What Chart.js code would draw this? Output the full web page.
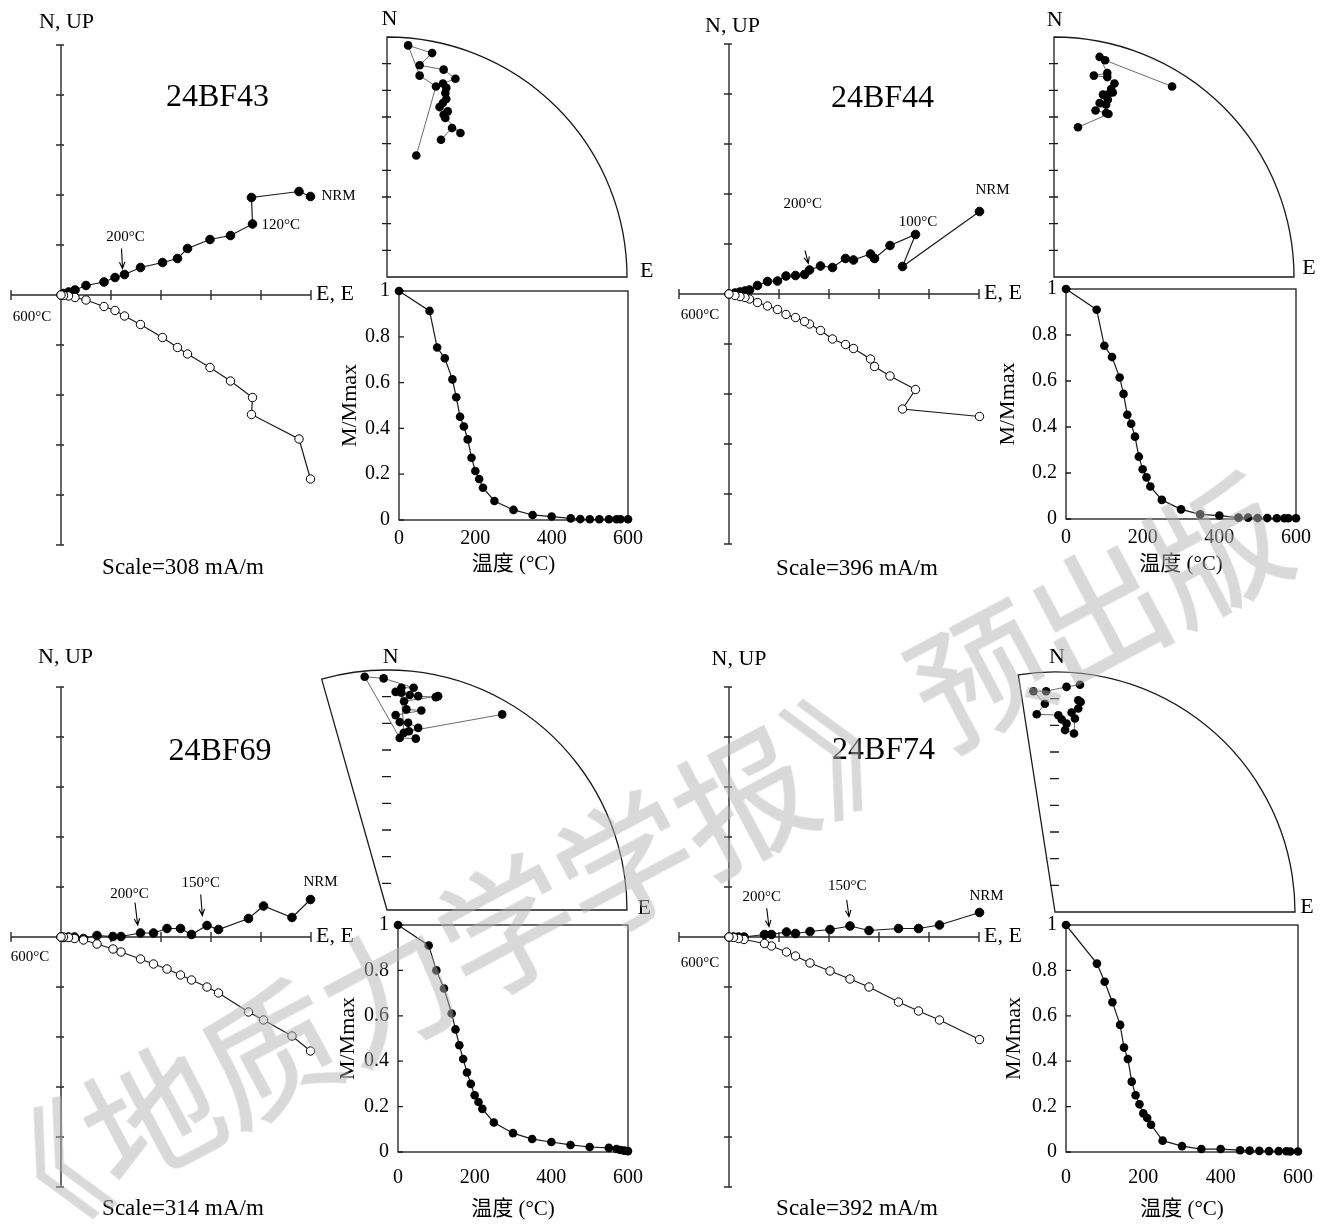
<!DOCTYPE html>
<html>
<head>
<meta charset="utf-8">
<title>24BF 系统退磁结果</title>
<script src="https://cdn.jsdelivr.net/npm/chart.js@4.4.1/dist/chart.umd.min.js"></script>
<style>
html, body { margin: 0; padding: 0; background: #fff; }
#page { position: relative; width: 1327px; height: 1225px; overflow: hidden; background: #fff; }
#page canvas { position: absolute; }
#wm {
    position: absolute; left: 622px; top: 858px; z-index: 10;
    transform: translate(-50%, -50%) rotate(-28deg);
    font: 400 134px "Noto Sans CJK SC", sans-serif; line-height: 1;
    color: rgb(180, 180, 180); -webkit-text-stroke: 1.5px rgb(180, 180, 180);
    opacity: 0.5; white-space: nowrap; pointer-events: none;
}
</style>
</head>
<body>
<div id="page"><div id="wm">《地质力学学报》预出版</div></div>
<script>
// ---- data ----
var sampleNames = ['24BF43', '24BF44', '24BF69', '24BF74'];
var scaleLabels = ['Scale=308 mA/m', 'Scale=396 mA/m', 'Scale=314 mA/m', 'Scale=392 mA/m'];
var tempTicks = [0, 200, 400, 600];
var ratioTicks = [0, 0.2, 0.4, 0.6, 0.8, 1];

// Zijderveld (units of one axis tick), E shared by both projections
var bf43E  = [4.99, 4.76, 3.81, 3.83, 3.39, 2.98, 2.53, 2.33, 2.03, 1.59, 1.27, 1.08, 0.86, 0.50, 0.28, 0.15, 0.05, 0];
var bf43N  = [1.97, 2.07, 1.95, 1.42, 1.19, 1.11, 0.93, 0.73, 0.65, 0.55, 0.41, 0.35, 0.26, 0.19, 0.10, 0.06, 0.03, 0];
var bf43Up = [-3.68, -2.88, -2.39, -2.05, -1.72, -1.45, -1.18, -1.05, -0.85, -0.59, -0.42, -0.31, -0.23, -0.10, -0.05, -0.02, -0.01, 0];

var bf44E  = [5.01, 3.47, 3.73, 3.22, 2.91, 2.83, 2.49, 2.33, 2.07, 1.83, 1.61, 1.51, 1.33, 1.14, 0.97, 0.77, 0.57, 0.41, 0.32, 0.22, 0.12, 0];
var bf44N  = [1.65, 0.55, 1.19, 0.97, 0.71, 0.80, 0.68, 0.71, 0.53, 0.56, 0.48, 0.39, 0.37, 0.36, 0.26, 0.25, 0.17, 0.08, 0.06, 0.04, 0.02, 0];
var bf44Up = [-2.45, -2.30, -1.91, -1.64, -1.45, -1.30, -1.09, -1.01, -0.90, -0.73, -0.60, -0.55, -0.47, -0.41, -0.31, -0.24, -0.17, -0.10, -0.07, -0.05, -0.03, 0];

var bf69E  = [4.99, 4.62, 4.05, 3.75, 3.15, 2.92, 2.61, 2.39, 2.12, 1.85, 1.59, 1.20, 1.04, 0.72, 0.45, 0.27, 0.15, 0.05, 0];
var bf69N  = [0.75, 0.39, 0.62, 0.37, 0.15, 0.23, 0.05, 0.17, 0.17, 0.08, 0.08, 0.01, 0.01, 0.03, -0.03, 0, 0, -0.01, 0];
var bf69Up = [-2.28, -1.98, -1.66, -1.50, -1.12, -1.00, -0.86, -0.76, -0.64, -0.54, -0.44, -0.30, -0.24, -0.14, -0.06, -0.03, -0.01, 0, 0];

var bf74E  = [5.01, 4.21, 3.79, 3.39, 2.80, 2.42, 2.02, 1.62, 1.33, 1.15, 0.85, 0.71, 0.30, 0.19, 0.09, 0];
var bf74N  = [0.49, 0.24, 0.17, 0.17, 0.13, 0.22, 0.15, 0.11, 0.07, 0.10, 0.05, 0.05, 0, 0, 0, 0];
var bf74Up = [-2.05, -1.66, -1.48, -1.30, -1.00, -0.84, -0.68, -0.52, -0.38, -0.30, -0.18, -0.13, -0.05, -0.03, -0.01, 0];

// equal-area net, E and N components as fraction of the net radius
var bf43NetE = [0.122, 0.204, 0.136, 0.088, 0.188, 0.136, 0.236, 0.285, 0.233, 0.247, 0.243, 0.247, 0.233, 0.219, 0.253, 0.236, 0.243, 0.306, 0.271, 0.225];
var bf43NetN = [0.506, 0.794, 0.839, 0.965, 0.933, 0.882, 0.864, 0.826, 0.806, 0.788, 0.767, 0.742, 0.725, 0.708, 0.690, 0.676, 0.663, 0.600, 0.621, 0.572];

var bf44NetE = [0.492, 0.213, 0.190, 0.222, 0.166, 0.222, 0.252, 0.238, 0.245, 0.224, 0.204, 0.224, 0.190, 0.217, 0.173, 0.217, 0.227, 0.100];
var bf44NetN = [0.794, 0.903, 0.917, 0.850, 0.839, 0.833, 0.806, 0.783, 0.769, 0.760, 0.760, 0.739, 0.725, 0.718, 0.694, 0.683, 0.679, 0.624];

var bf69NetE = [0.480, 0.091, 0.120, 0.053, -0.093, -0.014, 0.111, 0.060, 0.036, 0.095, 0.130, 0.203, 0.213, 0.071, 0.081, 0.143, 0.036, 0.053, 0.088, 0.130, 0.070, 0.060];
var bf69NetN = [0.815, 0.745, 0.714, 0.717, 0.972, 0.965, 0.926, 0.926, 0.909, 0.896, 0.891, 0.887, 0.891, 0.870, 0.836, 0.831, 0.812, 0.783, 0.780, 0.759, 0.738, 0.905];

var bf74NetE = [0.104, 0.048, -0.037, -0.090, -0.042, -0.076, 0.014, 0.028, 0.048, 0.042, 0.079, 0.083, 0.069, 0.097, 0.107, 0.097];
var bf74NetN = [0.947, 0.938, 0.920, 0.920, 0.868, 0.824, 0.820, 0.802, 0.785, 0.758, 0.744, 0.806, 0.831, 0.848, 0.875, 0.882];

// demagnetisation curves
var bf43T = [0, 80, 100, 120, 140, 150, 160, 170, 180, 190, 200, 210, 220, 250, 300, 350, 400, 450, 475, 500, 525, 550, 570, 580, 600];
var bf43M = [1, 0.913, 0.753, 0.706, 0.614, 0.536, 0.451, 0.408, 0.352, 0.272, 0.214, 0.179, 0.141, 0.083, 0.044, 0.022, 0.015, 0.007, 0.004, 0.003, 0.003, 0.003, 0.003, 0.003, 0.003];

var bf44T = [0, 80, 100, 120, 140, 150, 160, 170, 180, 190, 200, 210, 220, 250, 300, 350, 400, 450, 475, 500, 525, 550, 570, 580, 600];
var bf44M = [1, 0.910, 0.753, 0.704, 0.615, 0.544, 0.453, 0.414, 0.358, 0.271, 0.216, 0.181, 0.141, 0.083, 0.042, 0.020, 0.015, 0.006, 0.006, 0.004, 0.004, 0.003, 0.003, 0.003, 0.003];

var bf69T = [0, 80, 100, 120, 140, 150, 160, 170, 180, 190, 200, 210, 220, 250, 300, 350, 400, 450, 500, 550, 570, 580, 590, 600];
var bf69M = [1, 0.910, 0.800, 0.720, 0.610, 0.540, 0.470, 0.410, 0.350, 0.300, 0.250, 0.220, 0.190, 0.130, 0.083, 0.057, 0.044, 0.031, 0.022, 0.018, 0.013, 0.009, 0.006, 0.004];

var bf74T = [0, 80, 100, 120, 140, 150, 160, 170, 180, 190, 200, 210, 220, 250, 300, 350, 400, 450, 475, 500, 525, 550, 570, 580, 600];
var bf74M = [1, 0.830, 0.750, 0.660, 0.560, 0.460, 0.410, 0.310, 0.250, 0.210, 0.170, 0.150, 0.120, 0.050, 0.026, 0.013, 0.013, 0.008, 0.006, 0.005, 0.004, 0.004, 0.003, 0.002, 0.002];

// ---- layout of the four panels (pixels) ----
var panels = [
    {
        name: sampleNames[0], scale: scaleLabels[0],
        E: bf43E, N: bf43N, Up: bf43Up, netE: bf43NetE, netN: bf43NetN, T: bf43T, M: bf43M,
        origin: [61, 295], titleAt: [3.13, 3.94], nup: [5.5, -23], lowLabel: [-29, 22], scaleAt: [122, 273],
        notes: [
            { t: 'NRM', i: 0, dx: 11, dy: 0, align: 'left' },
            { t: '120°C', i: 3, dx: 9, dy: 1.5, align: 'left' },
            { t: '200°C', i: 10, dx: 1, dy: -37, arrow: [-3, -26, -2, -6] }
        ],
        net: { cx: 387, cy: 277, minAz: 0, nOff: [2.5, -17.7], eOff: [19.6, -5.3] },
        curve: { l: 399, t: 291, r: 628, b: 520, xPad: 7, xTitle: 44, yTitle: -49 }
    },
    {
        name: sampleNames[1], scale: scaleLabels[1],
        E: bf44E, N: bf44N, Up: bf44Up, netE: bf44NetE, netN: bf44NetN, T: bf44T, M: bf44M,
        origin: [729, 294], titleAt: [3.07, 3.9], nup: [3.5, -17.5], lowLabel: [-29, 21], scaleAt: [128, 275],
        notes: [
            { t: 'NRM', i: 0, dx: 13, dy: -21 },
            { t: '100°C', i: 2, dx: 2.6, dy: -12.3 },
            { t: '200°C', i: 10, dx: -6.8, dy: -66, arrow: [-4.5, -19.3, -1.2, -6.7] }
        ],
        net: { cx: 1054, cy: 277, minAz: 0, nOff: [0.7, -16.5], eOff: [15, -8.3] },
        curve: { l: 1066, t: 289, r: 1296, b: 519, xPad: 7, xTitle: 45, yTitle: -58 }
    },
    {
        name: sampleNames[2], scale: scaleLabels[2],
        E: bf69E, N: bf69N, Up: bf69Up, netE: bf69NetE, netN: bf69NetN, T: bf69T, M: bf69M,
        origin: [61, 937], titleAt: [3.18, 3.71], nup: [4.5, -30], lowLabel: [-31, 20], scaleAt: [122, 272],
        notes: [
            { t: 'NRM', i: 0, dx: 10, dy: -17 },
            { t: '150°C', i: 5, dx: -6.3, dy: -42, arrow: [-6.3, -31, -4.7, -10] },
            { t: '200°C', i: 10, dx: -11, dy: -39, arrow: [-5.5, -30.5, -2.8, -8] }
        ],
        net: { cx: 387, cy: 910, minAz: -15.8, nOff: [3.7, -13], eOff: [17.3, -2] },
        curve: { l: 398, t: 925, r: 628, b: 1152, xPad: 14, xTitle: 57, yTitle: -50 }
    },
    {
        name: sampleNames[3], scale: scaleLabels[3],
        E: bf74E, N: bf74N, Up: bf74Up, netE: bf74NetE, netN: bf74NetN, T: bf74T, M: bf74M,
        origin: [729, 937], titleAt: [3.09, 3.73], nup: [10, -28], lowLabel: [-29, 26], scaleAt: [128, 272],
        notes: [
            { t: 'NRM', i: 0, dx: 7, dy: -16 },
            { t: '150°C', i: 5, dx: -2.7, dy: -40, arrow: [-3.3, -26, -1, -9.3] },
            { t: '200°C', i: 10, dx: -9.8, dy: -37.8, arrow: [-4.8, -26.2, -2.5, -7.8] }
        ],
        net: { cx: 1055, cy: 912, minAz: -8.8, nOff: [2, -15], eOff: [12, -5] },
        curve: { l: 1066, t: 925, r: 1298, b: 1152, xPad: 14, xTitle: 57, yTitle: -52 }
    }
];

var SERIF = '"Liberation Serif", "Times New Roman", serif';
var SERIF_CJK = '"Liberation Serif", "Noto Sans CJK SC", serif';
Chart.defaults.font.family = SERIF;
Chart.defaults.color = '#000';

var page = document.getElementById('page');
var wm = document.getElementById('wm');

function pts(xs, ys) {
    var out = [];
    for (var i = 0; i < xs.length; i++) {
        out.push({ x: xs[i], y: ys[i] });
    }
    return out;
}

function addCanvas(left, top, w, h) {
    var c = document.createElement('canvas');
    c.width = w;
    c.height = h;
    c.style.left = left + 'px';
    c.style.top = top + 'px';
    c.style.width = w + 'px';
    c.style.height = h + 'px';
    page.insertBefore(c, wm);
    return c;
}

function baseOptions(padding) {
    return {
        responsive: false,
        animation: false,
        events: [],
        layout: { padding: padding },
        plugins: { legend: { display: false }, tooltip: { enabled: false } }
    };
}

function drawArrow(ctx, x1, y1, x2, y2) {
    var a = Math.atan2(y2 - y1, x2 - x1), hl = 7;
    ctx.beginPath();
    ctx.moveTo(x1, y1);
    ctx.lineTo(x2, y2);
    ctx.moveTo(x2 - hl * Math.cos(a - 0.4), y2 - hl * Math.sin(a - 0.4));
    ctx.lineTo(x2, y2);
    ctx.lineTo(x2 - hl * Math.cos(a + 0.4), y2 - hl * Math.sin(a + 0.4));
    ctx.stroke();
}

// axes through the origin, tick marks and the text of a Zijderveld plot
function zijDecor(p) {
    return {
        id: 'zijDecor',
        beforeDatasetsDraw: function (chart) {
            var ctx = chart.ctx, xs = chart.scales.x, ys = chart.scales.y;
            var ox = xs.getPixelForValue(0), oy = ys.getPixelForValue(0);
            ctx.save();
            ctx.strokeStyle = '#2a2a2a';
            ctx.lineWidth = 1.4;
            ctx.beginPath();
            ctx.moveTo(xs.getPixelForValue(xs.min), oy);
            ctx.lineTo(xs.getPixelForValue(xs.max), oy);
            ctx.moveTo(ox, ys.getPixelForValue(ys.max));
            ctx.lineTo(ox, ys.getPixelForValue(ys.min));
            for (var i = xs.min; i <= xs.max; i++) {
                if (i === 0) continue;
                var px = xs.getPixelForValue(i);
                ctx.moveTo(px, oy - 5);
                ctx.lineTo(px, oy + 5);
            }
            for (var j = ys.min; j <= ys.max; j++) {
                if (j === 0) continue;
                var py = ys.getPixelForValue(j);
                ctx.moveTo(ox - 5, py);
                ctx.lineTo(ox + 3, py);
            }
            ctx.stroke();
            ctx.restore();
        },
        afterDatasetsDraw: function (chart) {
            var ctx = chart.ctx, xs = chart.scales.x, ys = chart.scales.y;
            var ox = xs.getPixelForValue(0), oy = ys.getPixelForValue(0);
            var topY = ys.getPixelForValue(ys.max), endX = xs.getPixelForValue(xs.max);
            ctx.save();
            ctx.fillStyle = '#000';
            ctx.strokeStyle = '#000';
            ctx.textBaseline = 'middle';
            ctx.textAlign = 'center';

            ctx.font = '32px ' + SERIF;
            ctx.fillText(p.name, xs.getPixelForValue(p.titleAt[0]), ys.getPixelForValue(p.titleAt[1]));

            ctx.font = '22px ' + SERIF;
            ctx.fillText('N, UP', ox + p.nup[0], topY + p.nup[1]);
            ctx.textAlign = 'left';
            ctx.fillText('E, E', endX + 5, oy - 1);

            ctx.textAlign = 'center';
            ctx.font = '23px ' + SERIF;
            ctx.fillText(p.scale, ox + p.scaleAt[0], oy + p.scaleAt[1]);

            ctx.font = '15px ' + SERIF;
            ctx.fillText('600°C', ox + p.lowLabel[0], oy + p.lowLabel[1]);

            var meta = chart.getDatasetMeta(1);
            ctx.lineWidth = 1.1;
            p.notes.forEach(function (n) {
                var el = meta.data[n.i];
                ctx.textAlign = n.align || 'center';
                ctx.fillText(n.t, el.x + n.dx, el.y + n.dy);
                if (n.arrow) {
                    drawArrow(ctx, el.x + n.arrow[0], el.y + n.arrow[1], el.x + n.arrow[2], el.y + n.arrow[3]);
                }
            });
            ctx.restore();
        }
    };
}

function drawZij(p) {
    var ox = p.origin[0], oy = p.origin[1], u = 50;
    var w = 400, h = 600;
    var c = addCanvas(ox - 61, oy - 295, w, h);
    var opts = baseOptions({ left: 61 - u, top: 295 - 5 * u, right: w - 61 - 5 * u, bottom: h - 295 - 5 * u });
    opts.scales = {
        x: { type: 'linear', display: false, min: -1, max: 5 },
        y: { type: 'linear', display: false, min: -5, max: 5 }
    };
    new Chart(c.getContext('2d'), {
        type: 'scatter',
        data: {
            datasets: [
                {   // vertical projection (open)
                    data: pts(p.E, p.Up), showLine: true, clip: false,
                    borderColor: '#1a1a1a', borderWidth: 1.2,
                    pointRadius: 4.2, pointBorderWidth: 1,
                    pointBackgroundColor: '#fff', pointBorderColor: '#000'
                },
                {   // horizontal projection (solid)
                    data: pts(p.E, p.N), showLine: true, clip: false,
                    borderColor: '#1a1a1a', borderWidth: 1.2,
                    pointRadius: 4.3, pointBorderWidth: 1,
                    pointBackgroundColor: '#000', pointBorderColor: '#000'
                }
            ]
        },
        options: opts,
        plugins: [zijDecor(p)]
    });
}

// quarter (or wedge) outline of the equal-area net
function netDecor(n) {
    return {
        id: 'netDecor',
        beforeDatasetsDraw: function (chart) {
            var ctx = chart.ctx, xs = chart.scales.x, ys = chart.scales.y;
            var cx = xs.getPixelForValue(0), cy = ys.getPixelForValue(0);
            var r = xs.getPixelForValue(1) - cx;
            var a0 = n.minAz * Math.PI / 180;
            ctx.save();
            ctx.strokeStyle = '#1a1a1a';
            ctx.lineWidth = 1.3;
            ctx.beginPath();
            ctx.moveTo(cx, cy);
            ctx.lineTo(cx + r * Math.sin(a0), cy - r * Math.cos(a0));
            ctx.arc(cx, cy, r, a0 - Math.PI / 2, 0);
            ctx.closePath();
            ctx.stroke();
            ctx.beginPath();
            for (var k = 1; k <= 8; k++) {
                var py = ys.getPixelForValue(k / 9);
                ctx.moveTo(cx - 5, py);
                ctx.lineTo(cx + 4, py);
            }
            ctx.stroke();
            ctx.fillStyle = '#000';
            ctx.font = '22px ' + SERIF;
            ctx.textAlign = 'center';
            ctx.textBaseline = 'middle';
            ctx.fillText('N', cx + n.nOff[0], cy - r + n.nOff[1]);
            ctx.fillText('E', cx + r + n.eOff[0], cy + n.eOff[1]);
            ctx.restore();
        }
    };
}

function drawNet(p) {
    var n = p.net, R = 240;
    var minX = Math.sin(n.minAz * Math.PI / 180);
    var areaL = n.cx + minX * R;
    var left = Math.floor(areaL - 24);
    var padL = areaL - left, padT = 32, padB = 8;
    var w = Math.ceil(padL + (1 - minX) * R + 40);
    var c = addCanvas(left, n.cy - R - padT, w, R + padT + padB);
    var opts = baseOptions({ left: padL, top: padT, right: w - padL - (1 - minX) * R, bottom: padB });
    opts.scales = {
        x: { type: 'linear', display: false, min: minX, max: 1 },
        y: { type: 'linear', display: false, min: 0, max: 1 }
    };
    new Chart(c.getContext('2d'), {
        type: 'scatter',
        data: {
            datasets: [{
                data: pts(p.netE, p.netN), showLine: true, clip: false,
                borderColor: '#5a5a5a', borderWidth: 0.9,
                pointRadius: 4.3, pointBorderWidth: 0,
                pointBackgroundColor: '#000', pointBorderColor: '#000'
            }]
        },
        options: opts,
        plugins: [netDecor(n)]
    });
}

// closed box, inward ticks and axis titles of the M/Mmax plot
function curveDecor(a) {
    return {
        id: 'curveDecor',
        beforeDatasetsDraw: function (chart) {
            var ctx = chart.ctx, ca = chart.chartArea, ys = chart.scales.y;
            ctx.save();
            ctx.strokeStyle = '#1a1a1a';
            ctx.lineWidth = 1.3;
            ctx.strokeRect(ca.left, ca.top, ca.right - ca.left, ca.bottom - ca.top);
            ctx.beginPath();
            ratioTicks.forEach(function (v) {
                var py = ys.getPixelForValue(v);
                ctx.moveTo(ca.left, py);
                ctx.lineTo(ca.left + 5, py);
            });
            ctx.stroke();
            ctx.restore();
        },
        afterDraw: function (chart) {
            var ctx = chart.ctx, ca = chart.chartArea;
            ctx.save();
            ctx.fillStyle = '#000';
            ctx.textAlign = 'center';
            ctx.textBaseline = 'middle';
            ctx.font = '21px ' + SERIF_CJK;
            ctx.fillText('温度 (°C)', (ca.left + ca.right) / 2, ca.bottom + a.xTitle);
            ctx.translate(ca.left + a.yTitle, (ca.top + ca.bottom) / 2);
            ctx.rotate(-Math.PI / 2);
            ctx.font = '22px ' + SERIF;
            ctx.fillText('M/Mmax', 0, 0);
            ctx.restore();
        }
    };
}

function drawCurve(p) {
    var a = p.curve;
    var padT = 30, padR = 30, yw = 69, xh = 75;
    var c = addCanvas(a.l - yw, a.t - padT, a.r - a.l + yw + padR, a.b - a.t + padT + xh);
    var opts = baseOptions({ left: 0, top: padT, right: padR, bottom: 0 });
    opts.scales = {
        x: {
            type: 'linear', min: 0, max: 600,
            grid: { display: false, drawTicks: false }, border: { display: false },
            afterBuildTicks: function (s) { s.ticks = tempTicks.map(function (v) { return { value: v }; }); },
            afterFit: function (s) { s.height = xh; },
            ticks: { font: { size: 20 }, color: '#000', padding: a.xPad, maxRotation: 0, autoSkip: false }
        },
        y: {
            type: 'linear', min: 0, max: 1,
            grid: { display: false, drawTicks: false }, border: { display: false },
            afterBuildTicks: function (s) { s.ticks = ratioTicks.map(function (v) { return { value: v }; }); },
            afterFit: function (s) { s.width = yw; },
            ticks: {
                font: { size: 20 }, color: '#000', padding: 9, autoSkip: false,
                callback: function (v) { return (v === 0 || v === 1) ? String(v) : v.toFixed(1); }
            }
        }
    };
    new Chart(c.getContext('2d'), {
        type: 'scatter',
        data: {
            datasets: [{
                data: pts(p.T, p.M), showLine: true, clip: false,
                borderColor: '#1a1a1a', borderWidth: 1.2,
                pointRadius: 4.3, pointBorderWidth: 0,
                pointBackgroundColor: '#000', pointBorderColor: '#000'
            }]
        },
        options: opts,
        plugins: [curveDecor(a)]
    });
}

panels.forEach(function (p) {
    drawZij(p);
    drawNet(p);
    drawCurve(p);
});
</script>
</body>
</html>
